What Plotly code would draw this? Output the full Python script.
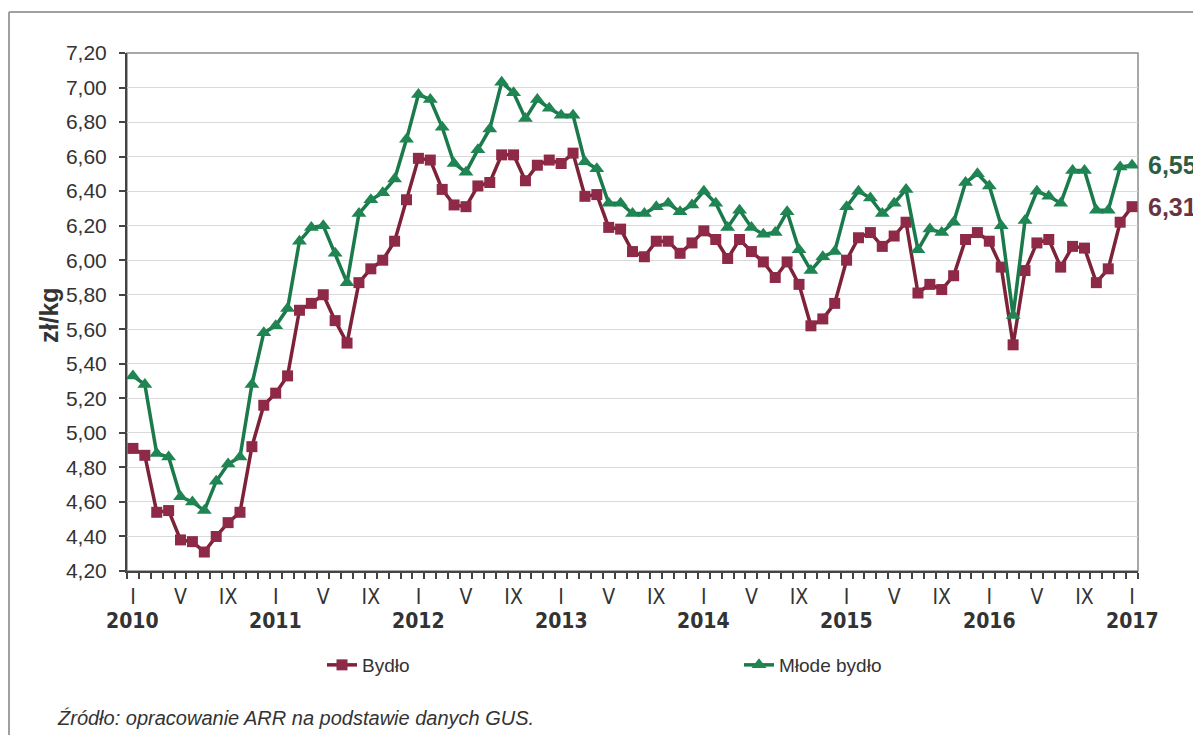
import plotly.graph_objects as go

# monthly prices zł/kg, I 2010 .. I 2017
bydlo = [
    4.91, 4.87, 4.54, 4.55, 4.38, 4.37, 4.31, 4.40, 4.48, 4.54, 4.92, 5.16,
    5.23, 5.33, 5.71, 5.75, 5.80, 5.65, 5.52, 5.87, 5.95, 6.00, 6.11, 6.35,
    6.59, 6.58, 6.41, 6.32, 6.31, 6.43, 6.45, 6.61, 6.61, 6.46, 6.55, 6.58,
    6.56, 6.62, 6.37, 6.38, 6.19, 6.18, 6.05, 6.02, 6.11, 6.11, 6.04, 6.10,
    6.17, 6.12, 6.01, 6.12, 6.05, 5.99, 5.90, 5.99, 5.86, 5.62, 5.66, 5.75,
    6.00, 6.13, 6.16, 6.08, 6.14, 6.22, 5.81, 5.86, 5.83, 5.91, 6.12, 6.16,
    6.11, 5.96, 5.51, 5.94, 6.10, 6.12, 5.96, 6.08, 6.07, 5.87, 5.95, 6.22,
    6.31,
]
mlode_bydlo = [
    5.33, 5.28, 4.88, 4.86, 4.63, 4.60, 4.55, 4.72, 4.82, 4.86, 5.28, 5.58,
    5.62, 5.72, 6.11, 6.19, 6.20, 6.04, 5.87, 6.27, 6.35, 6.39, 6.47, 6.70,
    6.96, 6.93, 6.77, 6.56, 6.51, 6.64, 6.76, 7.03, 6.97, 6.82, 6.93, 6.88,
    6.84, 6.84, 6.57, 6.53, 6.33, 6.33, 6.27, 6.27, 6.31, 6.33, 6.28, 6.32,
    6.40, 6.33, 6.19, 6.29, 6.19, 6.15, 6.16, 6.28, 6.06, 5.94, 6.02, 6.05,
    6.31, 6.40, 6.36, 6.27, 6.33, 6.41, 6.06, 6.18, 6.16, 6.22, 6.45, 6.50,
    6.43, 6.20, 5.68, 6.23, 6.40, 6.37, 6.33, 6.52, 6.52, 6.29, 6.29, 6.54,
    6.55,
]
months = list(range(len(bydlo)))
month_labels = ["I", "V", "IX"]
years = [2010, 2011, 2012, 2013, 2014, 2015, 2016, 2017]

RED = "#7E2238"
RED_MK = "#8E2A47"
GREEN = "#1B7A4B"
GREEN_MK = "#1F8552"
TXT = "#333333"
NARROW = "Liberation Sans Narrow, Arial Narrow, DejaVu Sans Condensed, Liberation Sans"

# page has an 8px body margin; plot area wanted at page px 127..1138 x 53..571
OFF = 8
W, H = 1201 - OFF, 735 - OFF
PL, PR, PT, PB = 127, 1138, 53, 571
L, R, T, B = PL - OFF, W - (PR - OFF), PT - OFF, H - (PB - OFF)
pw, ph = PR - PL, PB - PT


def px_x(p):
    return (p - PL) / pw


def px_y(p):
    return (PB - p) / ph


tickvals = [m for m in months if m % 4 == 0]
ticktext = [month_labels[(m % 12) // 4] for m in tickvals]

fig = go.Figure()
fig.add_trace(go.Scatter(
    x=months, y=bydlo, mode="lines+markers", name="Bydło",
    line=dict(color=RED, width=3.5),
    marker=dict(symbol="square", size=11, color=RED_MK),
))
fig.add_trace(go.Scatter(
    x=months, y=mlode_bydlo, mode="lines+markers", name="Młode bydło",
    line=dict(color=GREEN, width=3.5),
    marker=dict(symbol="triangle-up", size=13, color=GREEN_MK),
))

annotations = []
for i, yr in enumerate(years):
    annotations.append(dict(
        x=i * 12, y=px_y(621), xref="x", yref="paper", text=f"<b>{yr}</b>",
        showarrow=False, font=dict(family=NARROW, size=21, color=TXT),
        xanchor="center", yanchor="middle",
    ))

# end-of-series value labels
annotations.append(dict(
    x=px_x(1146), y=mlode_bydlo[-1], xref="paper", yref="y",
    text="<b>" + f"{mlode_bydlo[-1]:.2f}".replace(".", ",") + "</b>",
    showarrow=False, xanchor="left", yanchor="middle",
    font=dict(family="Liberation Sans", size=25, color="#2C5E44"),
))
annotations.append(dict(
    x=px_x(1146), y=bydlo[-1], xref="paper", yref="y",
    text="<b>" + f"{bydlo[-1]:.2f}".replace(".", ",") + "</b>",
    showarrow=False, xanchor="left", yanchor="middle",
    font=dict(family="Liberation Sans", size=25, color="#6B3340"),
))
annotations.append(dict(
    x=px_x(33), y=px_y(315), xref="paper", yref="paper", text="<b>zł/kg</b>",
    textangle=-90, showarrow=False,
    font=dict(family="Liberation Sans", size=25, color=TXT),
))
annotations.append(dict(
    x=px_x(55), y=px_y(718), xref="paper", yref="paper",
    text="<i>Źródło: opracowanie ARR na podstawie danych GUS.</i>",
    showarrow=False, xanchor="left", yanchor="middle",
    font=dict(family="Liberation Sans", size=20, color=TXT),
))

shapes = [
    # plot frame
    dict(type="rect", xref="paper", yref="paper", x0=0, x1=1, y0=0, y1=1,
         line=dict(color="#8C8C8C", width=1.5), layer="below"),
    # outer chart frame
    dict(type="line", xref="paper", yref="paper", x0=px_x(9), x1=px_x(1210),
         y0=px_y(12), y1=px_y(12), line=dict(color="#A0A0A0", width=2)),
    dict(type="line", xref="paper", yref="paper", x0=px_x(9), x1=px_x(9),
         y0=px_y(12), y1=px_y(740), line=dict(color="#A0A0A0", width=2)),
]

fig.update_layout(
    width=W, height=H,
    margin=dict(l=L, r=R, t=T, b=B),
    paper_bgcolor="white", plot_bgcolor="white",
    separators=", ",
    font=dict(family="Liberation Sans", color=TXT),
    showlegend=True,
    legend=dict(
        orientation="h", x=px_x(322), y=px_y(665), xanchor="left", yanchor="middle",
        entrywidth=372, entrywidthmode="pixels",
        font=dict(family="Liberation Sans", size=19, color=TXT),
        bgcolor="rgba(0,0,0,0)",
    ),
    annotations=annotations,
    shapes=shapes,
)
fig.update_xaxes(
    range=[-0.5, len(months) - 0.5],
    tickmode="array", tickvals=tickvals, ticktext=ticktext,
    ticks="outside", ticklen=0, tickcolor="rgba(0,0,0,0)",
    ticklabelstandoff=6,
    tickfont=dict(family=NARROW, size=21, color=TXT),
    showgrid=False, zeroline=False,
    showline=True, linecolor="#444444", linewidth=2,
    minor=dict(tickmode="array", tickvals=[m - 0.5 for m in months] + [len(months) - 0.5],
               ticks="outside", ticklen=6, tickcolor="#444444", tickwidth=1.5,
               showgrid=False),
)
fig.update_yaxes(
    range=[4.2, 7.2], dtick=0.2, tick0=4.2, tickformat=".2f",
    ticks="outside", ticklen=6, tickcolor="#444444", tickwidth=1.5,
    ticklabelstandoff=8,
    tickfont=dict(family="Liberation Sans", size=21, color=TXT),
    showgrid=True, gridcolor="#D9D9D9", gridwidth=1, zeroline=False,
    showline=True, linecolor="#444444", linewidth=2,
)

fig.write_html("out.html")
